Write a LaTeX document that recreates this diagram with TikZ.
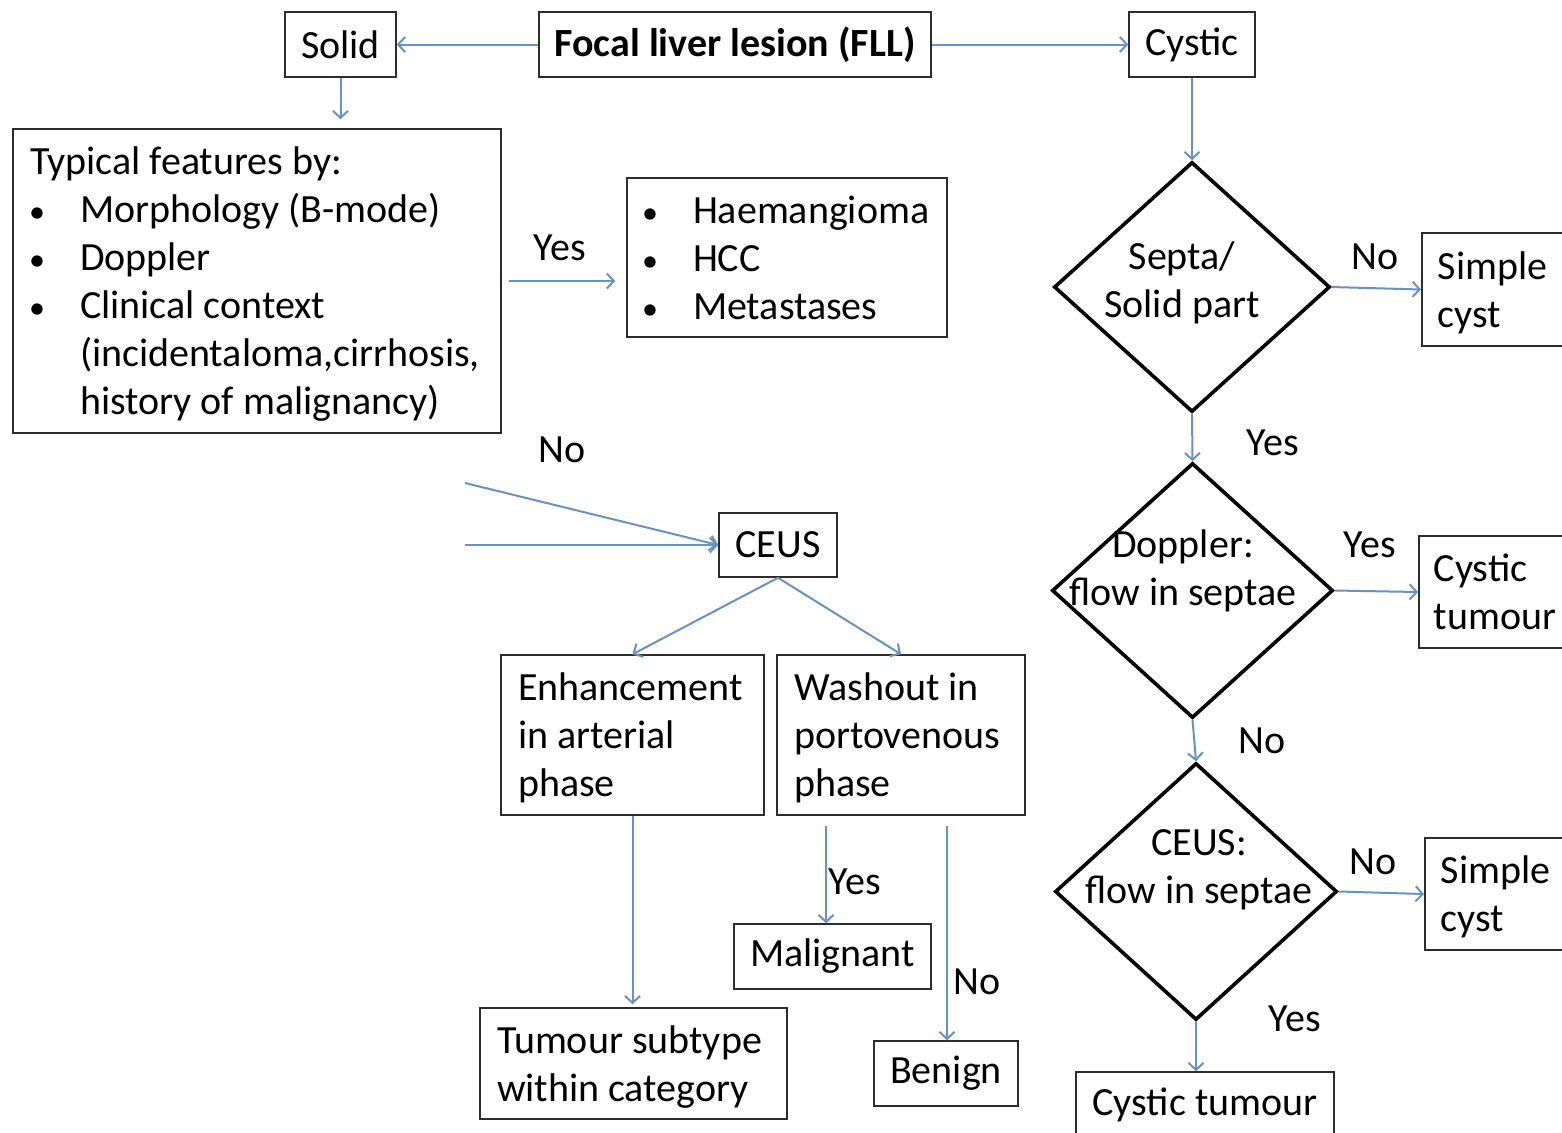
\documentclass[tikz,border=0pt]{standalone}
\usepackage{fontspec}
\setmainfont{Carlito}
\usetikzlibrary{arrows.meta,shapes.geometric}
\definecolor{boxc}{RGB}{45,45,45}
\definecolor{arrc}{RGB}{105,145,195}
\newcommand\txt{\fontsize{20}{24}\selectfont}
% left-aligned block of lines inside a box of fixed inner width, set slightly low
\newcommand\leftlines[2]{\makebox[#1][l]{\raisebox{-2pt}[\height][\depth]{\begin{tabular}{@{}l@{}}#2\end{tabular}}}}
% bullet centred at #1 from the line start, item text starting at #2
\newcommand\blt[2]{\rlap{\hspace*{#1}\makebox[0pt]{\scalebox{0.8}{\textbullet}}}\hspace*{#2}}

\begin{document}
\begin{tikzpicture}[x=0.5pt,y=-0.5pt,
  box/.style={draw=boxc,line width=0.75pt,fill=white,inner sep=0pt,font=\txt},
  dia/.style={draw=black,line width=1.8pt,shape=diamond,inner sep=0pt},
  conn/.style={draw=arrc,line width=1pt,-{Straight Barb[length=3.5pt,width=7.5pt]}},
  lbl/.style={inner sep=0pt,font=\txt},
]
\clip (0,0) rectangle (1562,1132);
\fill[white] (0,0) rectangle (1562,1132);

% top row
\node[box,minimum width=55.5pt,minimum height=32.5pt] (solid) at (340.5,44.5) {Solid};
\node[box,minimum width=196pt,minimum height=32.5pt,font=\txt\bfseries] (fll) at (735,44.5) {Focal liver lesion (FLL)};
\node[box,minimum width=63pt,minimum height=32.5pt] (cystic) at (1192,44.5) {Cystic};

% solid branch
\node[box,minimum width=244pt,minimum height=152pt] (feat) at (257,281)
  {\leftlines{227pt}{Typical features by:\\
   \blt{3.5pt}{25pt}Morphology (B-mode)\\
   \blt{3.5pt}{25pt}Doppler\\
   \blt{3.5pt}{25pt}Clinical context\\
   \hspace*{25pt}(incidentaloma,cirrhosis,\\
   \hspace*{25pt}history of malignancy)}};
\node[box,minimum width=160pt,minimum height=79.5pt] (haem) at (787,257.5)
  {\leftlines{147pt}{\blt{5pt}{26.5pt}Haemangioma\\ \blt{5pt}{26.5pt}HCC\\ \blt{5pt}{26.5pt}Metastases}};
\node[box,minimum width=59pt,minimum height=32pt] (ceus) at (778,545) {CEUS};
\node[box,minimum width=131.5pt,minimum height=80pt] (enh) at (632.5,735)
  {\leftlines{114.5pt}{Enhancement\\in arterial\\phase}};
\node[box,minimum width=124pt,minimum height=80pt] (wash) at (901,735)
  {\leftlines{107pt}{Washout in\\portovenous\\phase}};
\node[box,minimum width=153.5pt,minimum height=55.5pt] (tum) at (633.5,1063.5)
  {\leftlines{136.5pt}{Tumour subtype\\within category}};
\node[box,minimum width=98.5pt,minimum height=32.5pt] (mal) at (832.5,956.5) {Malignant};
\node[box,minimum width=72pt,minimum height=32.5pt] (ben) at (946,1073.5) {Benign};

% cystic branch
\node[dia,minimum width=138pt,minimum height=125pt] (d1) at (1192,287) {};
\node[lbl,align=center] (d1t) at (1182,283) {Septa/\\Solid part};
\node[dia,minimum width=140.5pt,minimum height=127.5pt] (d2) at (1192.5,590.5) {};
\node[lbl,align=center] (d2t) at (1183,571) {Doppler:\\flow in septae};
\node[dia,minimum width=141pt,minimum height=128.5pt] (d3) at (1196,891.5) {};
\node[lbl,align=center] (d3t) at (1199,870) {CEUS:\\flow in septae};

\node[box,anchor=west,minimum width=85pt,minimum height=56.5pt] (sc1) at (1421,289.5)
  {\leftlines{69pt}{Simple\\cyst}};
\node[box,anchor=west,minimum width=85pt,minimum height=56pt] (ct1) at (1418,592)
  {\leftlines{70pt}{Cystic\\tumour}};
\node[box,anchor=west,minimum width=85pt,minimum height=56pt] (sc2) at (1424,894)
  {\leftlines{69pt}{Simple\\cyst}};
\node[box,minimum width=129pt,minimum height=32.5pt] (ct2) at (1205,1104.5) {Cystic tumour};

% connectors
\draw[conn] (fll.west) -- (solid.east);
\draw[conn] (fll.east) -- (cystic.west);
\draw[conn,shorten >=4.5pt] (solid.south) -- (solid.south |- feat.north);
\draw[conn,shorten <=3.5pt,shorten >=5.5pt] (feat.east) -- (feat.east -| haem.west);
\coordinate (f1) at (465,483);
\coordinate (f2) at (465,545);
\draw[conn] (f1) -- (ceus.west);
\draw[conn] (f2) -- (ceus.west);
\draw[conn] (ceus.south) -- (enh.north);
\draw[conn] (ceus.south) -- (wash.north);
\draw[conn,shorten >=1.5pt] (enh.south) -- (enh.south |- tum.north);
\path ([shift={(-75,10)}]wash.south) coordinate (w1)
      ([shift={(46,10)}]wash.south) coordinate (w2);
\draw[conn] (w1) -- (w1 |- mal.north);
\draw[conn] (w2) -- (w2 |- ben.north);

\draw[conn] (cystic.south) -- (d1.north);
\draw[conn] (d1.east) -- (sc1.west);
\draw[conn] (d1.south) -- (d2.north);
\draw[conn] (d2.east) -- (ct1.west);
\draw[conn] (d2.south) -- (d3.north);
\draw[conn] (d3.east) -- (sc2.west);
\draw[conn] (d3.south) -- (d3.south |- ct2.north);

% branch labels
\node[lbl] (l1) at (560,248) {Yes};
\node[lbl] (l2) at (562,450) {No};
\node[lbl] (l3) at (855,882) {Yes};
\node[lbl] (l4) at (977,982) {No};
\node[lbl] (l5) at (1375,257) {No};
\node[lbl] (l6) at (1273,443) {Yes};
\node[lbl] (l7) at (1370,545) {Yes};
\node[lbl] (l8) at (1262,741) {No};
\node[lbl] (l9) at (1373,862) {No};
\node[lbl] (l10) at (1295,1019) {Yes};
\end{tikzpicture}
\end{document}
